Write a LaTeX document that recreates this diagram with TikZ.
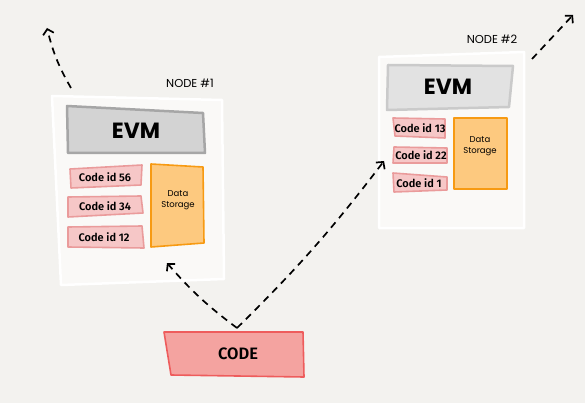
\documentclass[tikz,border=0pt]{standalone}
\usepackage{fontspec}
\setmainfont{Poppins}
\newfontfamily\codefont{Fira Sans SemiBold}
\usetikzlibrary{arrows.meta}
\definecolor{bgcol}{HTML}{F3F2EF}
\definecolor{panelcol}{HTML}{FAF9F7}
\definecolor{evmfill}{HTML}{D3D3D3}
\definecolor{evmline}{HTML}{A6A6A6}
\definecolor{evmfilltwo}{HTML}{E2E2E2}
\definecolor{evmlinetwo}{HTML}{CACACA}
\definecolor{idfill}{HTML}{F6C7C7}
\definecolor{idline}{HTML}{EA9B9B}
\definecolor{storefill}{HTML}{FDC97F}
\definecolor{storeline}{HTML}{F79A12}
\definecolor{codefill}{HTML}{F4A3A0}
\definecolor{codeline}{HTML}{EE5C5C}

\begin{document}
\begin{tikzpicture}[x=1pt,y=-1pt,
    panel/.style={fill=panelcol,draw=white,line width=2.5pt,line join=round},
    evmbox/.style={fill=evmfill,draw=evmline,line width=2.5pt,line join=round},
    idbox/.style={fill=idfill,draw=idline,line width=1.6pt,line join=round},
    storebox/.style={fill=storefill,draw=storeline,line width=1.6pt,line join=round},
    idtext/.style={font=\codefont\fontsize{11}{12}\selectfont},
    storetext/.style={font=\fontsize{8.5}{10.5}\selectfont,align=center},
    evmtext/.style={font=\bfseries\fontsize{22}{24}\selectfont},
    flow/.style={line width=1.7pt,dash pattern=on 7pt off 5.5pt,-{Straight Barb[length=5pt,width=11pt]}}]
    \fill[bgcol] (0,0) rectangle (585,403);

    % node 1
    \draw[panel] (52,96) -- (222,100) -- (224,279) -- (61,285) -- cycle;
    \node[font=\fontsize{11.5}{13}\selectfont] (lab1) at (190,83) {NODE \#1};
    \draw[evmbox] (67,106) -- (203,113) -- (205,153) -- (68,153) -- cycle;
    \node[evmtext] (evm1) at (136,131) {EVM};
    \draw[idbox] (70,169) -- (142,165) -- (141,185) -- (71,188) -- cycle;
    \node[idtext] (id56) at (105,177) {Code id 56};
    \draw[idbox] (68,197) -- (141,196) -- (143,213) -- (68,217) -- cycle;
    \node[idtext] (id34) at (105,206) {Code id 34};
    \draw[idbox] (68,227) -- (142,226) -- (144,248) -- (68,247) -- cycle;
    \node[idtext] (id12) at (104,237) {Code id 12};
    \draw[storebox] (151,164) -- (203,167) -- (204,243) -- (151,247) -- cycle;
    \node[storetext] (store1) at (178,200) {Data\\Storage};
    \coordinate (top1) at (71,88);
    \coordinate (out1) at (47,28);

    % node 2
    \draw[panel] (379,57) -- (524,52) -- (524,228) -- (379,228) -- cycle;
    \node[font=\fontsize{11.5}{13}\selectfont] (lab2) at (492,39) {NODE \#2};
    \draw[evmbox,fill=evmfilltwo,draw=evmlinetwo] (388,65) -- (513,66) -- (509,107) -- (387,110) -- cycle;
    \node[evmtext] (evm2) at (448,87) {EVM};
    \draw[idbox] (393,118) -- (445,119) -- (445,138) -- (395,136) -- cycle;
    \node[idtext] (id13) at (420,128) {Code id 13};
    \draw[idbox] (394,147) -- (447,148) -- (447,163) -- (393,163) -- cycle;
    \node[idtext] (id22) at (421,155) {Code id 22};
    \draw[idbox] (393,173) -- (447,177) -- (447,190) -- (394,192) -- cycle;
    \node[idtext] (id1) at (419,183) {Code id 1};
    \draw[storebox] (454,118) -- (507,118) -- (507,189) -- (454,189) -- cycle;
    \node[storetext] (store2) at (480,146) {Data\\Storage};
    \coordinate (top2) at (532,59);
    \coordinate (out2) at (573,15);
    \coordinate (in2) at (384,161);

    % code
    \draw[fill=codefill,draw=codeline,line width=1.6pt,line join=round] (164,332) -- (303,332) -- (304,377) -- (171,375) -- cycle;
    \node[font=\codefont\fontsize{16.5}{18}\selectfont] (code) at (238,354) {CODE};
    \coordinate (codetop) at (237,328);
    \coordinate (in1) at (167,263);

    % arrows
    \draw[flow] (top1) to[bend left=8] (out1);
    \draw[flow] (top2) -- (out2);
    \draw[flow] (codetop) to[bend left=6] (in1);
    \draw[flow] (codetop) to[bend right=4] (in2);
\end{tikzpicture}
\end{document}
